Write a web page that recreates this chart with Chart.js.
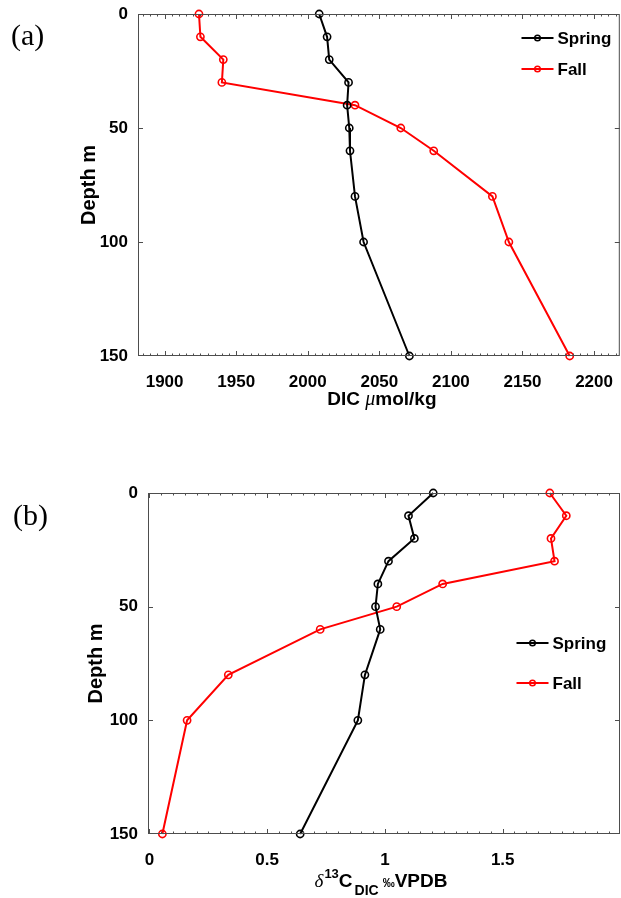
<!DOCTYPE html>
<html><head><meta charset="utf-8">
<script src="https://cdn.jsdelivr.net/npm/chart.js@4.4.1/dist/chart.umd.min.js"></script>
<style>
html,body{margin:0;padding:0;background:#fff;width:621px;height:898px;overflow:hidden}
.box{position:absolute;left:0;width:621px}
#boxA{top:0;height:420px}
#boxB{top:479px;height:419px}
canvas{display:block}
.lab{position:absolute;font-family:"Liberation Serif","Times New Roman",serif;font-size:30px;line-height:30px;color:#000}
</style></head><body>
<div class="box" id="boxA"><canvas id="cA" width="621" height="420"></canvas></div>
<div class="box" id="boxB"><canvas id="cB" width="621" height="419"></canvas></div>
<div class="lab" style="left:11px;top:20px">(a)</div>
<div class="lab" style="left:13px;top:500px">(b)</div>
<script>
// ---- data ----
const seriesNames = ['Spring', 'Fall'];
const depths = [0, 10, 20, 30, 40, 50, 60, 80, 100, 150];
const dicSpring = [2008, 2013.5, 2015, 2028.5, 2027.5, 2029, 2029.5, 2033, 2039, 2071];
const dicFall   = [1924, 1925, 1941, 1940, 2033, 2065, 2088, 2129, 2140.5, 2183];
const d13cSpring = [1.205, 1.10, 1.125, 1.015, 0.97, 0.96, 0.98, 0.915, 0.885, 0.64];
const d13cFall   = [1.70, 1.77, 1.705, 1.72, 1.245, 1.05, 0.725, 0.335, 0.16, 0.055];
const dicTicks = [1900, 1950, 2000, 2050, 2100, 2150, 2200];
const d13cTicks = [0, 0.5, 1, 1.5];
const depthTicks = [0, 50, 100, 150];

const SANS = '"Liberation Sans", Arial, Helvetica, sans-serif';
const SERIF = '"Liberation Serif", "Times New Roman", serif';
const colors = ['#000000', '#ff0000'];

const matlabAxes = {
  id: 'matlabAxes',
  afterDatasetsDraw(chart, args, o) {
    const ctx = chart.ctx;
    const {left, right, top, bottom} = chart.chartArea;
    const xs = chart.scales.x, ys = chart.scales.y;
    ctx.save();
    ctx.strokeStyle = o.color; ctx.lineWidth = 1;
    const ln = (x1, y1, x2, y2) => { ctx.beginPath(); ctx.moveTo(x1, y1); ctx.lineTo(x2, y2); ctx.stroke(); };
    ctx.strokeRect(left + 0.5, top + 0.5, right - left - 1, bottom - top - 1);
    const xt = (v, len) => {
      const p = Math.round(xs.getPixelForValue(v)) + 0.5;
      if (p < left + 1 || p > right - 1) return;
      ln(p, bottom, p, bottom - len); ln(p, top, p, top + len);
    };
    const st = o.xMinorStep;
    for (let k = Math.ceil(xs.min / st - 1e-9); k * st <= xs.max + 1e-9; k++) xt(k * st, o.minorLen);
    xs.ticks.forEach(t => xt(t.value, o.majorLen));
    ys.ticks.forEach(t => {
      const p = Math.round(ys.getPixelForValue(t.value)) + 0.5;
      if (p < top + 1 || p > bottom - 1) return;
      ln(left, p, left + o.majorLen, p); ln(right, p, right - o.majorLen, p);
    });
    ctx.restore();
  }
};

const insideLegend = {
  id: 'insideLegend',
  afterDraw(chart, args, o) {
    const ctx = chart.ctx;
    ctx.save();
    chart.data.datasets.forEach((ds, i) => {
      const y = o.y + i * o.dy;
      ctx.strokeStyle = ds.borderColor; ctx.lineWidth = 2;
      ctx.beginPath(); ctx.moveTo(o.x, y); ctx.lineTo(o.x + o.len, y); ctx.stroke();
      ctx.lineWidth = 1.5;
      ctx.beginPath(); ctx.arc(o.x + o.len / 2, y, 2.8, 0, Math.PI * 2); ctx.stroke();
      ctx.fillStyle = '#000'; ctx.font = 'bold 17px ' + SANS;
      ctx.textBaseline = 'middle'; ctx.textAlign = 'left';
      ctx.fillText(ds.label, o.x + o.len + o.gap, y + 1);
    });
    ctx.restore();
  }
};

const richTitle = {
  id: 'richTitle',
  afterDraw(chart, args, o) {
    const ctx = chart.ctx;
    ctx.save();
    ctx.fillStyle = '#000'; ctx.textBaseline = 'alphabetic'; ctx.textAlign = 'left';
    let w = 0;
    o.pieces.forEach(p => { ctx.font = p.f; w += ctx.measureText(p.t).width + (p.gap || 0); });
    const {left, right} = chart.chartArea;
    let x = (left + right) / 2 - w / 2 + (o.dx || 0);
    o.pieces.forEach(p => {
      ctx.font = p.f;
      ctx.fillText(p.t, x, o.y + (p.dy || 0));
      x += ctx.measureText(p.t).width + (p.gap || 0);
    });
    ctx.restore();
  }
};

function makeDs(xs, i) {
  return {
    label: seriesNames[i],
    data: depths.map((d, k) => ({x: xs[k], y: d})),
    showLine: true, borderColor: colors[i], backgroundColor: 'rgba(0,0,0,0)',
    borderWidth: 2, pointRadius: 3.6, pointBorderWidth: 1.6,
    pointBackgroundColor: 'rgba(0,0,0,0)', pointBorderColor: colors[i], tension: 0,
    clip: 8
  };
}

function makeChart(id, spring, fall, xMin, xMax, xTicks, yLeft, yTitlePad, xMinorStep, legend, titlePieces, titleY, titleDx) {
  return new Chart(document.getElementById(id), {
    type: 'scatter',
    data: {datasets: [makeDs(spring, 0), makeDs(fall, 1)]},
    options: {
      responsive: false, animation: false, devicePixelRatio: 1,
      layout: {autoPadding: false, padding: {top: 14, right: 1, left: 0, bottom: 0}},
      plugins: {
        legend: {display: false}, tooltip: {enabled: false},
        matlabAxes: {color: '#4d4d4d', xMinorStep: xMinorStep, minorLen: 2.5, majorLen: 5},
        insideLegend: legend,
        richTitle: {pieces: titlePieces, y: titleY, dx: titleDx}
      },
      scales: {
        x: {
          type: 'linear', min: xMin, max: xMax,
          grid: {display: false}, border: {display: false},
          afterBuildTicks: s => { s.ticks = xTicks.map(v => ({value: v})); },
          afterFit: s => { s.height = 64; },
          ticks: {font: {family: SANS, size: 17, weight: 'bold'}, color: '#000', padding: 8,
                  maxRotation: 0, autoSkip: false, callback: v => String(v)}
        },
        y: {
          type: 'linear', reverse: true, min: 0, max: 150,
          grid: {display: false}, border: {display: false},
          afterBuildTicks: s => { s.ticks = depthTicks.map(v => ({value: v})); },
          afterFit: s => { s.width = yLeft; },
          ticks: {font: {family: SANS, size: 17, weight: 'bold'}, color: '#000', padding: 2,
                  autoSkip: false, callback: v => String(v)},
          title: {display: true, text: 'Depth m', color: '#000',
                  font: {family: SANS, size: 20, weight: 'bold'}, padding: {top: yTitlePad, bottom: 0}}
        }
      }
    },
    plugins: [matlabAxes, insideLegend, richTitle]
  });
}

makeChart('cA', dicSpring, dicFall, 1881.4, 2218, dicTicks, 138, 77, 5,
  {x: 521.5, y: 38, dy: 31, len: 32, gap: 4},
  [{t: 'DIC ', f: 'bold 19px ' + SANS}, {t: 'μ', f: 'italic 20px ' + SERIF},
   {t: 'mol/kg', f: 'bold 19px ' + SANS}], 405, 3);

makeChart('cB', d13cSpring, d13cFall, -0.006, 1.998, d13cTicks, 148, 84, 0.05,
  {x: 516.5, y: 164, dy: 40, len: 32, gap: 4},
  [{t: 'δ', f: 'italic 19px ' + SERIF, gap: 1}, {t: '13', f: 'bold 13px ' + SANS, dy: -9},
   {t: 'C', f: 'bold 19px ' + SANS, gap: 2}, {t: 'DIC', f: 'bold 14px ' + SANS, dy: 8, gap: 4},
   {t: '‰', f: 'bold 12px ' + SANS}, {t: 'VPDB', f: 'bold 19px ' + SANS}], 408, -3);
</script>
</body></html>
